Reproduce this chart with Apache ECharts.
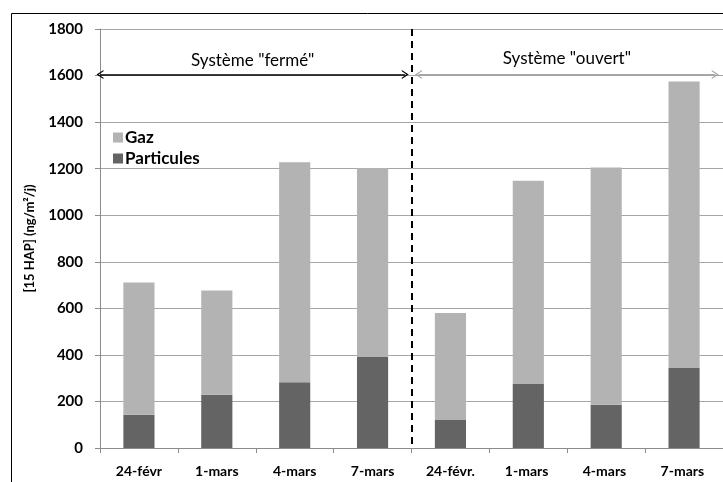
<!DOCTYPE html>
<html>
<head>
<meta charset="utf-8">
<script src="https://cdn.jsdelivr.net/npm/echarts@6/dist/echarts.min.js"></script>
<style>html,body{margin:0;padding:0;background:#fff}#c{width:723px;height:482px}</style>
</head>
<body>
<div id="c"></div>
<script>
const categories = ['24-févr', '1-mars', '4-mars', '7-mars', '24-févr.', '1-mars ', '4-mars ', '7-mars '];
const particules = [143, 229, 282, 391, 122, 275, 186, 344];
const gaz = [568, 448, 946, 812, 458, 873, 1019, 1231];
const yTicks = { min: 0, max: 1800, interval: 200 };
const groupLabels = ['Système "fermé"', 'Système "ouvert"'];
const arrowLevel = 1605;
const divider = 4;
const groupSpans = [[0, 3.92], [4.09, 7.9]];

const FONT = 'Lato';
const chevron = 'path://M0,10 L5,0 L10,10 L8.6,10 L5,3.2 L1.4,10 Z';
const chart = echarts.init(document.getElementById('c'));
chart.setOption({
  animation: false,
  textStyle: { fontFamily: FONT },
  graphic: [{
    type: 'rect', shape: { x: 11.5, y: 13.5, width: 900, height: 700 },
    style: { fill: 'none', stroke: '#000', lineWidth: 1 }, silent: true, z: -1
  }],
  legend: {
    orient: 'vertical', left: 108, top: 124, icon: 'rect',
    itemWidth: 10, itemHeight: 10, itemGap: 4,
    data: ['Gaz', 'Particules'],
    textStyle: { fontFamily: FONT, fontWeight: 'bold', fontSize: 17, color: '#000', padding: [0, 0, 0, -3] }
  },
  grid: { left: 100, top: 29, width: 624, bottom: 34, containLabel: false },
  xAxis: [{
    type: 'category', data: categories,
    axisLine: { lineStyle: { color: '#8c8c8c', width: 1 } },
    axisTick: { show: true, length: 5, lineStyle: { color: '#8c8c8c' } },
    axisLabel: { fontFamily: FONT, fontWeight: 'bold', fontSize: 14, color: '#000', margin: 16, interval: 0 }
  }, {
    type: 'value', min: 0, max: categories.length, show: false
  }],
  yAxis: {
    type: 'value', min: yTicks.min, max: yTicks.max, interval: yTicks.interval,
    name: '[15 HAP] (ng/m²/j)', nameLocation: 'middle', nameGap: 64, nameRotate: 90,
    nameTextStyle: { fontFamily: FONT, fontWeight: 'bold', fontSize: 13, color: '#000' },
    axisLine: { show: true, lineStyle: { color: '#8c8c8c' } },
    axisTick: { show: true, length: 5, lineStyle: { color: '#8c8c8c' } },
    splitLine: { lineStyle: { color: '#a6a6a6', width: 1 } },
    axisLabel: { fontFamily: FONT, fontWeight: 'bold', fontSize: 15, color: '#000', margin: 17,
      formatter: v => String(v) }
  },
  series: [
    { name: 'Particules', type: 'bar', stack: 'tot', data: particules, barWidth: '40%',
      itemStyle: { color: '#646464' } },
    { name: 'Gaz', type: 'bar', stack: 'tot', data: gaz, barWidth: '40%',
      itemStyle: { color: '#b3b3b3' } },
    { name: 'annot', type: 'line', xAxisIndex: 1, yAxisIndex: 0, data: [], silent: true,
      markLine: {
        silent: true, animation: false,
        data: [
          [{ coord: [divider, yTicks.max], symbol: 'none' }, { coord: [divider, 0], symbol: 'none',
            lineStyle: { color: '#000', width: 2, type: [7, 5] }, label: { show: false } }],
          [{ coord: [groupSpans[0][0], arrowLevel], symbol: chevron, symbolSize: [9, 7], symbolRotate: 90 },
           { coord: [groupSpans[0][1], arrowLevel], symbol: chevron, symbolSize: [9, 7], symbolRotate: -90,
             lineStyle: { color: '#000', width: 1.5, type: 'solid' },
             label: { show: true, position: 'middle', formatter: groupLabels[0], color: '#000', fontSize: 17, fontFamily: FONT, distance: 5 } }],
          [{ coord: [groupSpans[1][0], arrowLevel], symbol: chevron, symbolSize: [9, 7], symbolRotate: 90 },
           { coord: [groupSpans[1][1], arrowLevel], symbol: chevron, symbolSize: [9, 7], symbolRotate: -90,
             lineStyle: { color: '#a6a6a6', width: 2, type: 'solid' },
             label: { show: true, position: 'middle', formatter: groupLabels[1], color: '#000', fontSize: 17, fontFamily: FONT, distance: 7 } }]
        ]
      } }
  ]
});
</script>
</body>
</html>
